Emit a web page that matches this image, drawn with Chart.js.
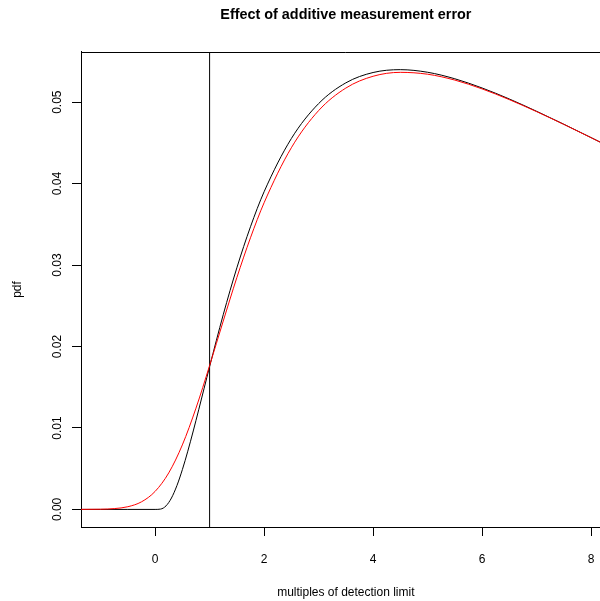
<!DOCTYPE html>
<html>
<head>
<meta charset="utf-8">
<script src="https://cdn.jsdelivr.net/npm/chart.js@4"></script>
<style>
  html, body { margin: 0; padding: 0; overflow: hidden; background: #fff; }
  #wrap { width: 611px; height: 601px; }
</style>
</head>
<body>
<div id="wrap"><canvas id="c" width="611" height="601"></canvas></div>
<script>
// ---- data ----
const chartTitle = 'Effect of additive measurement error';
const xLabel = 'multiples of detection limit';
const yLabel = 'pdf';

// true (error-free) density, black curve
const xBlack = [-1.4, -1, -0.5, 0, 0.1, 0.2, 0.3, 0.4, 0.5, 0.6, 0.7, 0.8, 0.9, 1.0, 1.25, 1.5, 1.75, 2, 2.5, 3, 3.5, 4, 4.5, 5, 5.5, 6, 6.5, 7, 7.5, 8, 8.4];
const yBlack = [0, 0, 0, 0, 0.00004, 0.00043, 0.0014, 0.00292, 0.00488, 0.00715, 0.00963, 0.01223, 0.01488, 0.01753, 0.0239, 0.02966, 0.0347, 0.039, 0.04553, 0.04982, 0.05237, 0.05364, 0.05399, 0.05367, 0.05287, 0.05174, 0.05039, 0.04888, 0.04729, 0.04565, 0.04432];

// density with additive measurement error, red curve
const xRed = [-1.4, -1, -0.75, -0.5, -0.25, 0, 0.25, 0.5, 0.75, 1.0, 1.25, 1.5, 1.75, 2, 2.5, 3, 3.5, 4, 4.5, 5, 5.5, 6, 6.5, 7, 7.5, 8, 8.4];
const yRed = [0.000002, 0.000024, 0.000098, 0.00033, 0.00093, 0.00221, 0.00448, 0.00792, 0.01243, 0.01766, 0.02312, 0.02846, 0.03335, 0.03765, 0.0444, 0.04896, 0.05173, 0.05318, 0.05366, 0.05343, 0.05271, 0.05163, 0.05031, 0.04884, 0.04727, 0.04564, 0.04432];

// vertical reference line at the detection limit
const xVline = [1, 1];
const yVline = [-0.00216, 0.05616];

// axes
const xRange = [-1.36, 8.36];
const yRange = [-0.00216, 0.05616];
const xTicks = [0, 2, 4, 6, 8];
const yTicks = [0, 0.01, 0.02, 0.03, 0.04, 0.05];

// ---- chart ----
const FONT = "'Liberation Sans', Arial, Helvetica, sans-serif";
const pts = (xs, ys) => xs.map((x, i) => ({ x: x, y: ys[i] }));

const boxPlugin = {
  id: 'boxPlugin',
  afterDraw(chart) {
    const a = chart.chartArea;
    const ctx = chart.ctx;
    ctx.save();
    ctx.strokeStyle = '#000';
    ctx.lineWidth = 1;
    ctx.beginPath();
    const t = Math.round(a.top) + 0.5;
    const r = Math.round(a.right) - 0.5;
    ctx.moveTo(a.left, t);
    ctx.lineTo(r, t);
    ctx.lineTo(r, a.bottom);
    ctx.stroke();
    ctx.restore();
  }
};

new Chart(document.getElementById('c'), {
  type: 'line',
  data: {
    datasets: [
      { label: 'with error', data: pts(xRed, yRed), borderColor: '#ff0000', borderWidth: 1, pointRadius: 0, fill: false, cubicInterpolationMode: 'monotone' },
      { label: 'true', data: pts(xBlack, yBlack), borderColor: '#000000', borderWidth: 1, pointRadius: 0, fill: false, cubicInterpolationMode: 'monotone' },
      { label: 'limit', data: pts(xVline, yVline), borderColor: '#000000', borderWidth: 1, pointRadius: 0, fill: false, tension: 0 }
    ]
  },
  options: {
    responsive: false,
    animation: false,
    devicePixelRatio: 1,
    layout: { padding: 0, autoPadding: false },
    plugins: {
      legend: { display: false },
      tooltip: { enabled: false },
      title: {
        display: true,
        fullSize: false,
        text: chartTitle,
        color: '#000',
        font: { family: FONT, size: 14.4, weight: 'bold', lineHeight: 1.2 },
        padding: { top: 6, bottom: 28.7 }
      }
    },
    scales: {
      x: {
        type: 'linear',
        min: xRange[0],
        max: xRange[1],
        afterBuildTicks: (s) => { s.ticks = xTicks.map(v => ({ value: v })); },
        afterFit: (s) => { s.height = 74; },
        grid: { display: true, drawOnChartArea: false, drawTicks: true, tickLength: 9, color: '#000', lineWidth: 1 },
        border: { display: true, color: '#000', width: 1 },
        ticks: {
          color: '#000',
          font: { family: FONT, size: 12 },
          padding: 16.6,
          maxRotation: 0,
          autoSkip: false,
          callback: (v) => String(v)
        },
        title: {
          display: true,
          text: xLabel,
          color: '#000',
          font: { family: FONT, size: 12, lineHeight: 1.2 },
          padding: { top: 0, bottom: 1.3 }
        }
      },
      y: {
        type: 'linear',
        min: yRange[0],
        max: yRange[1],
        afterBuildTicks: (s) => { s.ticks = yTicks.map(v => ({ value: v })); },
        afterFit: (s) => { s.width = 81; },
        grid: { display: true, drawOnChartArea: false, drawTicks: true, tickLength: 9, color: '#000', lineWidth: 1 },
        border: { display: true, color: '#000', width: 1 },
        ticks: {
          color: '#000',
          font: { family: FONT, size: 12 },
          padding: 2.8,
          minRotation: 90,
          maxRotation: 90,
          crossAlign: 'center',
          autoSkip: false,
          callback: (v) => Number(v).toFixed(2)
        },
        title: {
          display: true,
          text: yLabel,
          color: '#000',
          font: { family: FONT, size: 12, lineHeight: 1.2 },
          padding: { top: 10.8, bottom: 0 }
        }
      }
    }
  },
  plugins: [boxPlugin]
});
</script>
</body>
</html>
